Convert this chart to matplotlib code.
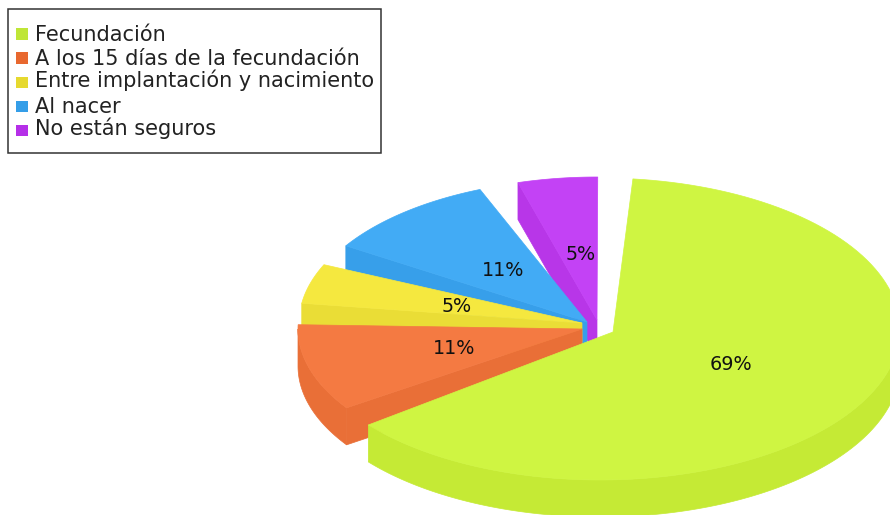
import numpy as np
import matplotlib
matplotlib.use("Agg")
import matplotlib.pyplot as plt
from matplotlib.patches import Polygon, Rectangle

# Data
categories = ["Fecundación", "A los 15 días de la fecundación",
              "Entre implantación y nacimiento", "Al nacer", "No están seguros"]
percent = [69, 11, 5, 11, 5]

# Style / layout
top_colors = ["#cff542", "#f47a42", "#f5e83f", "#42abf5", "#c342f5"]
side_colors = ["#c5ea35", "#e96f37", "#eadd36", "#379fea", "#b836e8"]
key_colors = ["#bfe637", "#e8682f", "#e6d92f", "#359ee8", "#b52fe8"]
start_deg = [6.3, 236.0, 278.0, 302.2, 343.9]   # clockwise from top
deg_per_pct = 3.25
apex = [(613, 332), (582, 329), (582, 323), (587, 322), (597, 320)]
center = [(600, 329), (582, 329), (582, 323), (587, 322), (597, 320)]
radii = [(300, 151), (284, 141), (283, 142), (285, 143), (285, 143)]
depth = 37
label_pos = [(731, 365), (454, 348), (457, 307), (503, 271), (581, 254)]
key_y = [33.5, 57.5, 82, 106, 130]
text_base = [41, 65, 87, 113, 135]

fig = plt.figure(figsize=(8.9, 5.15), dpi=100, facecolor="white")
ax = fig.add_axes([0, 0, 1, 1])
ax.set_xlim(0, 890)
ax.set_ylim(515, 0)
ax.axis("off")


def rim(c, r, a0, a1, n=120):
    t = np.radians(np.linspace(a0, a1, n))
    return np.column_stack([c[0] + r[0] * np.sin(t), c[1] - r[1] * np.cos(t)])


# back to front: purple, blue, yellow, orange, green
for i in [4, 3, 2, 1, 0]:
    a0 = start_deg[i]
    a1 = a0 + percent[i] * deg_per_pct
    arc = rim(center[i], radii[i], a0, a1)
    ap = np.array(apex[i], float)
    shift = np.array([0, depth])
    if i != 0:
        # exposed cut face along the slice's first edge
        p = arc[0]
        ax.add_patch(Polygon([ap, p, p + shift, ap + shift], closed=True,
                             fc=side_colors[i], ec=side_colors[i], lw=0.5, zorder=i * -3 + 20))
    # outer wall on the near half of the ellipse
    lo, hi = max(a0, 90), min(a1, 270)
    if hi > lo:
        wall = rim(center[i], radii[i], lo, hi)
        ax.add_patch(Polygon(np.vstack([wall, (wall + shift)[::-1]]), closed=True,
                             fc=side_colors[i], ec=side_colors[i], lw=0.5, zorder=i * -3 + 20))
    ax.add_patch(Polygon(np.vstack([ap, arc]), closed=True,
                         fc=top_colors[i], ec=top_colors[i], lw=0.5, zorder=i * -3 + 21))
    ax.text(*label_pos[i], f"{percent[i]}%", ha="center", va="center",
            fontsize=13.8, color="#111111", zorder=40)

# Legend
ax.add_patch(Rectangle((7.5, 8.5), 373, 144, fc="white", ec="#333333", lw=1.1, zorder=50))
for name, col, ky, by in zip(categories, key_colors, key_y, text_base):
    ax.add_patch(Rectangle((16, ky - 5.5), 11.5, 11.5, fc=col, ec="none", zorder=51))
    ax.text(35, by, name, ha="left", va="baseline", fontsize=15,
            color="#222222", zorder=51)

fig.savefig("out.png", dpi=100)
